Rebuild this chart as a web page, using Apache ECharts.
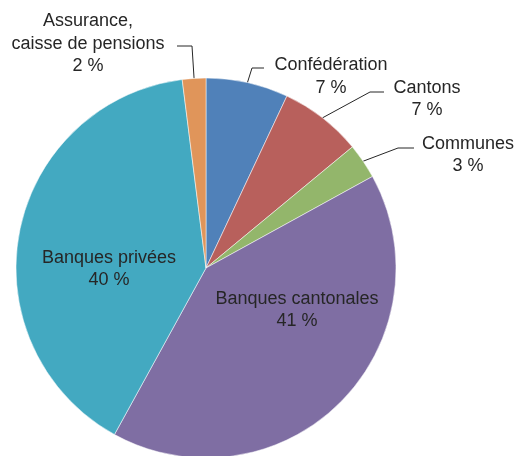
<!DOCTYPE html>
<html>
<head>
<meta charset="utf-8">
<script src="https://cdn.jsdelivr.net/npm/echarts@6/dist/echarts.min.js"></script>
<style>
html,body{margin:0;padding:0;background:#fff;}
#c{width:518px;height:456px;}
</style>
</head>
<body>
<div id="c"></div>
<script>
const categories = ['Confédération', 'Cantons', 'Communes', 'Banques cantonales', 'Banques privées', 'Assurance,\ncaisse de pensions'];
const values = [7, 7, 3, 41, 40, 2];
const colors = ['#5081b9', '#b8605c', '#93b66b', '#7f6ea3', '#43a9c1', '#e0955a'];

// label placement (block centre) and leader-line bends, per slice
const labelPos = [[331, 76.5], [427, 99], [468, 155], [297, 310], [109, 269], [88, 44]];
const lineBend = [[[252, 68], [264, 68]], [[370, 92], [384, 92]], [[398, 148], [414, 148]], null, null, [[192, 46], [177, 46]]];

const cx = 206, cy = 268, R = 190;
const total = values.reduce((a, b) => a + b, 0);
function edgePoint(i) {
  let cum = 0;
  for (let k = 0; k < i; k++) cum += values[k];
  const mid = (cum + values[i] / 2) / total * 2 * Math.PI;
  return [cx + R * Math.sin(mid), cy - R * Math.cos(mid)];
}

const chart = echarts.init(document.getElementById('c'));
chart.setOption({
  animation: false,
  series: [{
    type: 'pie',
    center: [cx, cy],
    radius: R,
    startAngle: 90,
    clockwise: true,
    avoidLabelOverlap: false,
    itemStyle: { borderColor: '#ffffff', borderWidth: 0.5 },
    label: {
      show: true,
      position: 'outside',
      formatter: '{b}\n{c} %',
      fontFamily: 'Liberation Sans, Arial, sans-serif',
      fontSize: 18,
      lineHeight: 22.5,
      color: '#262626',
      align: 'center'
    },
    labelLine: { show: true, lineStyle: { color: '#262626', width: 1 }, length: 10, length2: 10 },
    labelLayout: function (p) {
      const i = p.dataIndex;
      const res = { x: labelPos[i][0], y: labelPos[i][1], align: 'center', verticalAlign: 'middle' };
      if (lineBend[i]) {
        res.labelLinePoints = [edgePoint(i), lineBend[i][0], lineBend[i][1]];
      }
      return res;
    },
    data: categories.map((n, i) => ({
      name: n,
      value: values[i],
      itemStyle: { color: colors[i] },
      labelLine: { show: !!lineBend[i] }
    }))
  }]
});
</script>
</body>
</html>
